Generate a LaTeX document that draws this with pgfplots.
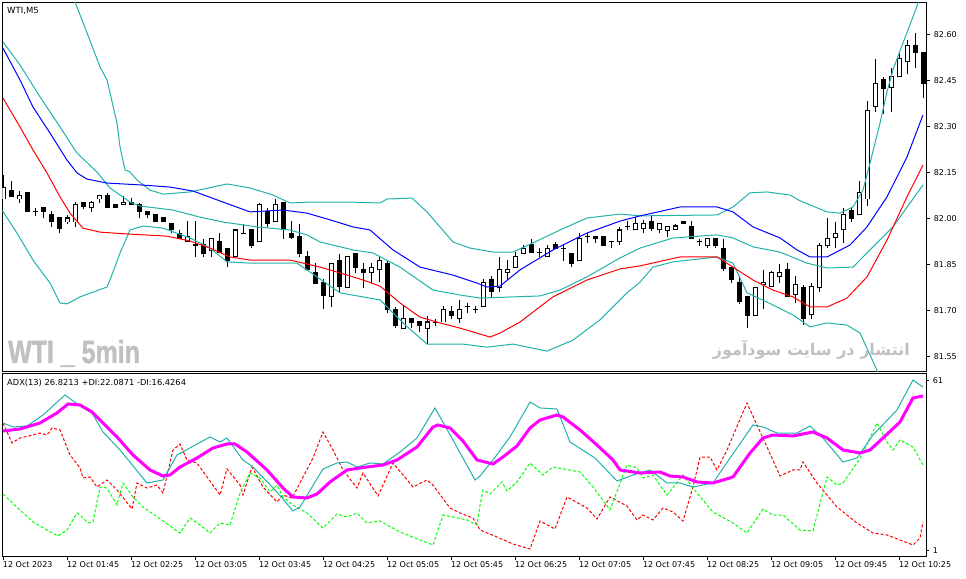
\documentclass[border=0pt]{standalone}
\usepackage{graphicx}
\usepackage{pgfplots}
\pgfplotsset{compat=1.18}
\usepackage{pgfplotstable}
\usepackage{fontspec}
\setmainfont{DejaVu Sans}
\newfontfamily\wmfont[BoldFeatures={FakeBold=1.5}]{Liberation Sans}
\newfontfamily\arfont[Script=Arabic]{DejaVu Sans}
\TeXXeTstate=1
\definecolor{lsg}{RGB}{32,178,170}
\definecolor{wm}{RGB}{192,192,192}
\definecolor{lime}{RGB}{0,255,0}
\definecolor{mag}{RGB}{255,0,255}

% bullish candles: i open high low close
\pgfplotstableread{
i o h l c
0 82.065 82.143 82.065 82.104
2 82.065 82.091 82.052 82.075
8 81.990 82.013 81.984 82.003
9 81.990 82.055 81.974 82.046
11 82.036 82.059 82.023 82.055
12 82.065 82.075 82.052 82.075
15 82.046 82.075 82.046 82.055
23 81.925 81.993 81.925 81.944
26 81.896 81.935 81.876 81.935
29 81.876 81.964 81.876 81.964
32 81.925 82.052 81.925 82.046
34 81.993 82.065 81.993 82.046
41 81.746 81.856 81.713 81.856
43 81.775 81.876 81.775 81.876
46 81.824 81.856 81.791 81.843
47 81.834 81.876 81.794 81.866
50 81.644 81.716 81.644 81.674
53 81.644 81.684 81.592 81.664
55 81.664 81.716 81.664 81.706
57 81.674 81.736 81.661 81.706
60 81.716 81.804 81.716 81.794
62 81.775 81.876 81.762 81.834
63 81.824 81.866 81.801 81.834
64 81.843 81.892 81.843 81.876
65 81.886 81.915 81.886 81.905
68 81.876 81.915 81.876 81.905
72 81.863 81.954 81.863 81.935
77 81.925 81.974 81.915 81.964
79 81.964 82.006 81.964 81.984
80 81.970 81.997 81.954 81.984
82 81.964 81.984 81.954 81.984
83 81.961 81.974 81.941 81.974
84 81.967 81.984 81.967 81.977
88 81.912 81.935 81.905 81.935
94 81.684 81.775 81.684 81.775
95 81.785 81.834 81.706 81.794
96 81.781 81.830 81.781 81.824
97 81.811 81.853 81.791 81.824
99 81.755 81.814 81.726 81.785
101 81.687 81.791 81.674 81.781
102 81.775 81.922 81.762 81.912
103 81.912 82.003 81.905 81.935
104 81.941 81.990 81.905 81.954
105 81.964 82.036 81.922 82.013
107 82.013 82.124 82.013 82.085
108 82.065 82.385 82.042 82.352
109 82.365 82.522 82.349 82.443
111 82.430 82.492 82.349 82.463
112 82.463 82.544 82.463 82.522
113 82.512 82.584 82.473 82.564
}\bull

% bearish and doji candles
\pgfplotstableread{
i o h l c
1 82.094 82.124 82.072 82.072
3 82.085 82.088 82.023 82.023
4 82.023 82.036 82.010 82.023
5 82.036 82.036 82.003 82.023
6 82.013 82.026 81.974 81.990
7 82.003 82.006 81.954 81.970
10 82.055 82.055 82.032 82.042
13 82.075 82.085 82.036 82.036
14 82.046 82.046 82.036 82.036
16 82.055 82.068 82.046 82.046
17 82.046 82.052 82.003 82.023
18 82.023 82.023 82.003 82.013
19 82.013 82.013 81.990 81.990
20 82.003 82.003 81.990 81.990
21 81.984 81.984 81.954 81.964
22 81.954 81.964 81.935 81.935
24 81.915 81.993 81.876 81.915
25 81.915 81.935 81.876 81.886
27 81.925 81.954 81.892 81.892
28 81.905 81.905 81.843 81.866
30 81.954 81.984 81.954 81.954
31 81.964 81.964 81.905 81.915
33 82.023 82.036 81.974 81.984
35 82.055 82.055 81.935 81.964
36 81.954 81.993 81.935 81.941
37 81.944 81.984 81.876 81.886
38 81.876 81.896 81.834 81.834
39 81.824 81.856 81.791 81.791
40 81.794 81.804 81.706 81.752
42 81.866 81.886 81.762 81.781
44 81.886 81.886 81.824 81.843
45 81.834 81.856 81.775 81.824
48 81.856 81.866 81.693 81.706
49 81.706 81.713 81.644 81.651
51 81.674 81.674 81.644 81.661
52 81.664 81.664 81.631 81.651
54 81.661 81.674 81.651 81.661
56 81.697 81.716 81.674 81.684
58 81.713 81.726 81.693 81.713
59 81.706 81.716 81.693 81.706
61 81.804 81.814 81.746 81.762
66 81.915 81.935 81.892 81.892
67 81.892 81.905 81.876 81.892
69 81.915 81.925 81.905 81.905
70 81.905 81.915 81.863 81.905
71 81.886 81.886 81.843 81.856
73 81.944 81.954 81.922 81.944
74 81.944 81.944 81.922 81.935
75 81.944 81.944 81.915 81.915
76 81.925 81.925 81.905 81.925
78 81.974 81.993 81.964 81.974
81 81.993 82.010 81.961 81.970
85 81.993 81.993 81.984 81.984
86 81.974 81.993 81.935 81.935
87 81.925 81.935 81.912 81.925
89 81.935 81.935 81.905 81.912
90 81.905 81.935 81.830 81.840
91 81.843 81.843 81.791 81.804
92 81.794 81.814 81.723 81.732
93 81.746 81.746 81.644 81.684
98 81.834 81.856 81.746 81.746
100 81.775 81.785 81.654 81.674
106 82.026 82.039 81.990 82.003
110 82.453 82.463 82.342 82.424
114 82.564 82.606 82.492 82.544
115 82.544 82.544 82.394 82.443
}\bear

\begin{document}
\begin{tikzpicture}
\useasboundingbox (0,0) rectangle (966pt,578pt);
% watermarks
\node[anchor=base west, text=wm, inner sep=0pt] at (8pt,215pt)
  {\scalebox{0.78}[1]{\wmfont\bfseries\fontsize{32}{32}\selectfont WTI \_ 5min}};
\node[anchor=base east, text=wm, inner sep=0pt] at (910pt,222pt)
  {\arfont\bfseries\fontsize{16}{16}\selectfont\beginR انتشار در سایت سودآموز\endR};

\pgfplotsset{
  mtpanel/.style={scale only axis, width=924pt, xmin=-0.125, xmax=115.375,
    anchor=north west, axis line style={line width=1pt, black},
    tick style={line width=1pt, black}, tick align=outside,
    ytick pos=right, yticklabel pos=right,
    ticklabel style={font=\fontsize{8}{9}\selectfont},
    /pgf/number format/assume math mode=true},
  wick/.style={draw=none, mark=none, forget plot,
    error bars/.cd, y dir=plus, y explicit, error mark=none,
    error bar style={draw=black, solid, line width=1pt}},
  body/.style={draw=none, mark=none, forget plot,
    error bars/.cd, y dir=plus, y explicit, error mark=none,
    error bar style={draw=#1, solid, line width=5pt}},
  inner/.style={draw=none, mark=none, forget plot,
    error bars/.cd, y dir=plus, y explicit, error mark=none,
    error bar style={draw=white, solid, line width=3pt}},
}

% ---------------- price panel ----------------
\begin{axis}[mtpanel, at={(2.3pt,575.3pt)}, height=369pt,
  ymin=81.502, ymax=82.705, xtick=\empty,
  ytick={81.55,81.70,81.85,82.00,82.15,82.30,82.45,82.60},
  major tick length=4pt,
  yticklabel style={/pgf/number format/.cd, fixed, fixed zerofill, precision=2, assume math mode=true}]
% wicks
\addplot[wick] table[x=i, y=l, y error plus expr=\thisrow{h}-\thisrow{l}] {\bull};
\addplot[wick] table[x=i, y=l, y error plus expr=\thisrow{h}-\thisrow{l}] {\bear};
% bodies
\addplot[body=black] table[x=i, y expr=\thisrow{c}-0.0016, y error plus expr=\thisrow{o}-\thisrow{c}+0.0033] {\bear};
\addplot[body=black] table[x=i, y expr=\thisrow{o}-0.0016, y error plus expr=\thisrow{c}-\thisrow{o}+0.0033] {\bull};
\addplot[inner] table[x=i, y expr=\thisrow{o}+0.0016, y error plus expr=\thisrow{c}-\thisrow{o}-0.0033] {\bull};
% Bollinger bands
\addplot[lsg, line width=1pt, mark=none] coordinates {(7.09,82.861)(8.34,82.760)(8.96,82.707)(9.84,82.649)(12.09,82.496)(12.96,82.453)(14.21,82.313)(14.59,82.235)(15.21,82.160)(15.84,82.153)(16.71,82.127)(18.34,82.094)(19.96,82.081)(23.34,82.088)(27.96,82.114)(30.84,82.101)(33.71,82.078)(35.84,82.052)(38.34,82.055)(43.34,82.055)(47.09,82.052)(47.96,82.065)(51.09,82.068)(52.96,82.023)(56.21,81.925)(58.34,81.905)(61.21,81.892)(63.71,81.892)(66.21,81.922)(69.59,81.964)(72.96,82.003)(77.09,82.016)(79.59,82.010)(89.21,82.013)(91.21,82.039)(93.34,82.085)(95.46,82.088)(98.34,82.078)(99.59,82.059)(102.96,82.023)(104.59,82.019)(106.21,82.039)(107.46,82.094)(108.34,82.182)(109.59,82.313)(110.46,82.414)(111.21,82.486)(112.46,82.574)(113.71,82.659)(114.96,82.747)};
\addplot[lsg, line width=1pt, mark=none] coordinates {(-0.04,82.577)(2.09,82.502)(4.59,82.398)(7.09,82.300)(9.21,82.215)(11.71,82.153)(13.34,82.101)(15.84,82.055)(17.09,82.042)(21.21,82.029)(24.59,82.006)(27.46,81.990)(31.71,81.974)(35.84,81.964)(37.96,81.948)(39.59,81.925)(43.71,81.899)(46.21,81.889)(49.59,81.843)(53.71,81.768)(57.09,81.752)(59.59,81.742)(67.09,81.749)(69.59,81.768)(72.96,81.811)(77.09,81.873)(79.59,81.905)(83.71,81.938)(89.21,81.948)(91.21,81.938)(93.71,81.909)(97.09,81.892)(100.46,81.856)(102.96,81.840)(106.21,81.843)(108.71,81.909)(111.21,81.974)(114.96,82.111)};
\addplot[lsg, line width=1pt, mark=none] coordinates {(-0.41,82.039)(1.71,81.954)(3.71,81.866)(5.84,81.791)(7.09,81.726)(7.96,81.723)(9.59,81.746)(12.96,81.778)(13.34,81.801)(14.59,81.889)(15.84,81.964)(17.46,81.977)(19.96,81.970)(23.34,81.938)(25.84,81.905)(27.96,81.860)(30.84,81.856)(34.96,81.856)(36.71,81.856)(39.21,81.811)(42.09,81.759)(47.09,81.736)(49.96,81.661)(52.96,81.592)(57.46,81.592)(60.46,81.582)(63.71,81.592)(67.96,81.569)(71.21,81.605)(74.59,81.671)(77.96,81.759)(79.59,81.794)(81.21,81.843)(83.71,81.860)(89.21,81.876)(91.21,81.856)(92.96,81.759)(95.46,81.729)(98.71,81.687)(100.84,81.648)(102.96,81.661)(105.46,81.654)(107.09,81.628)(109.21,81.507)(110.21,81.426)};
% moving averages
\addplot[blue, line width=1pt, mark=none] coordinates {(-0.04,82.557)(2.09,82.453)(3.71,82.365)(5.84,82.280)(7.96,82.192)(9.21,82.150)(10.46,82.130)(12.96,82.117)(17.09,82.111)(20.84,82.104)(23.71,82.091)(27.46,82.055)(30.84,82.023)(34.96,82.029)(37.96,82.019)(40.84,81.997)(43.71,81.974)(45.84,81.964)(48.71,81.899)(52.09,81.843)(56.21,81.817)(59.21,81.791)(60.46,81.778)(62.09,81.781)(64.59,81.834)(68.71,81.899)(72.96,81.954)(77.09,81.993)(79.59,82.010)(84.59,82.039)(89.21,82.039)(91.21,82.023)(93.71,81.974)(97.09,81.938)(99.21,81.899)(100.84,81.876)(102.96,81.876)(105.84,81.915)(107.96,81.974)(110.46,82.072)(112.96,82.202)(114.96,82.339)};
\addplot[red, line width=1pt, mark=none] coordinates {(-0.04,82.394)(2.09,82.300)(3.71,82.225)(5.46,82.150)(7.09,82.072)(8.34,82.019)(9.96,81.970)(12.09,81.957)(15.46,81.951)(20.46,81.944)(23.34,81.928)(25.84,81.905)(28.34,81.876)(30.84,81.866)(35.84,81.866)(39.59,81.843)(42.09,81.824)(44.96,81.801)(47.09,81.781)(49.59,81.726)(52.09,81.680)(54.59,81.661)(57.09,81.644)(60.84,81.615)(62.09,81.628)(64.59,81.664)(68.71,81.746)(72.96,81.801)(77.09,81.837)(79.59,81.847)(84.59,81.876)(89.21,81.876)(91.21,81.843)(93.71,81.801)(96.21,81.768)(98.71,81.746)(100.84,81.713)(102.96,81.713)(105.46,81.742)(107.96,81.811)(110.46,81.931)(112.96,82.072)(114.96,82.176)};
\end{axis}

% ---------------- ADX panel ----------------
\begin{axis}[mtpanel, at={(2.3pt,204.7pt)}, height=183.4pt,
  ymin=-1.11, ymax=63.46, ytick={1,61}, major tick length=3pt,
  xtick={0,8,...,112}, xtick pos=bottom,
  xticklabels={12 Oct 2023,12 Oct 01:45,12 Oct 02:25,12 Oct 03:05,12 Oct 03:45,12 Oct 04:25,12 Oct 05:05,12 Oct 05:45,12 Oct 06:25,12 Oct 07:05,12 Oct 07:45,12 Oct 08:25,12 Oct 09:05,12 Oct 09:45,12 Oct 10:25},
  xticklabel style={anchor=north west, inner sep=0pt, xshift=-0.5pt, yshift=-2pt}]
\addplot[red, line width=1pt, dash pattern=on 3pt off 2pt, mark=none] coordinates {(-0.04,45.96)(1.09,38.92)(2.09,40.68)(3.71,41.74)(4.59,42.44)(5.46,41.74)(6.09,44.20)(7.09,43.50)(8.34,34.70)(9.59,30.12)(9.96,26.60)(10.84,26.95)(11.71,23.43)(12.96,25.89)(14.21,22.37)(16.09,15.68)(16.71,24.84)(17.96,23.08)(19.21,24.13)(19.96,21.32)(21.21,36.46)(22.09,38.57)(22.96,32.94)(24.21,31.88)(27.09,20.61)(27.96,29.77)(29.59,24.13)(29.96,20.61)(31.09,30.47)(32.46,23.43)(34.21,18.15)(34.96,20.61)(36.09,19.56)(38.71,33.64)(39.96,42.80)(41.21,36.46)(42.46,29.42)(44.21,23.08)(44.96,28.36)(46.84,20.26)(48.71,31.88)(51.21,23.43)(52.96,25.89)(53.71,24.13)(55.84,16.04)(57.09,14.27)(58.71,12.51)(59.59,8.30)(61.71,5.82)(63.71,3.36)(65.84,1.60)(67.09,11.46)(68.96,8.64)(70.46,19.91)(72.96,16.04)(74.21,12.16)(75.84,19.91)(77.96,16.74)(79.21,11.81)(79.96,13.57)(81.21,11.81)(82.46,16.04)(83.71,14.63)(84.96,11.46)(86.21,23.43)(87.09,33.99)(88.34,33.99)(89.21,29.42)(90.46,36.46)(92.96,53.01)(95.46,37.51)(97.09,27.30)(98.71,29.42)(99.59,29.42)(99.96,32.23)(101.71,24.84)(104.21,16.39)(106.71,10.75)(108.71,7.23)(110.46,6.53)(112.09,4.77)(113.71,3.01)(114.59,5.47)(114.96,11.11)};
\addplot[lime, line width=1pt, dash pattern=on 3pt off 2pt, mark=none] coordinates {(-0.04,20.96)(2.09,15.33)(3.71,11.11)(5.46,8.29)(6.84,6.18)(7.96,8.29)(9.21,14.27)(9.59,13.57)(10.59,10.75)(11.21,11.11)(12.09,23.43)(12.96,23.08)(14.21,17.09)(14.96,24.84)(16.21,19.91)(17.46,16.39)(19.59,12.16)(22.09,7.23)(23.34,12.51)(24.59,10.05)(25.84,7.23)(27.09,10.75)(28.34,10.05)(29.59,21.32)(29.96,23.43)(30.84,28.36)(32.09,26.60)(33.34,21.67)(34.21,24.13)(34.96,19.91)(36.21,17.09)(37.96,14.27)(39.96,8.99)(41.71,13.92)(42.96,12.87)(44.21,14.27)(45.46,10.75)(47.09,11.46)(49.59,7.58)(52.09,4.77)(53.71,3.01)(54.96,13.57)(56.21,12.87)(57.96,11.81)(59.21,10.05)(59.59,17.00)(59.96,22.37)(60.84,20.96)(62.34,25.19)(62.96,22.02)(64.21,25.19)(65.84,31.88)(67.46,27.65)(68.71,30.47)(72.09,28.71)(73.71,23.43)(75.84,15.33)(77.96,31.18)(79.21,30.12)(79.96,26.60)(81.21,27.65)(82.96,20.61)(84.96,27.65)(86.71,21.32)(88.71,14.63)(91.21,10.75)(92.96,7.23)(94.96,15.68)(96.21,13.57)(97.46,13.57)(99.59,8.29)(101.21,7.94)(102.96,26.95)(104.21,24.13)(104.96,24.84)(106.71,31.88)(107.46,35.40)(109.21,45.96)(110.46,39.27)(111.21,36.46)(112.09,39.98)(113.71,37.51)(114.96,31.18)};
\addplot[lsg, line width=1pt, mark=none] coordinates {(-0.04,45.96)(1.21,44.56)(2.96,44.91)(4.96,48.78)(7.71,55.82)(9.59,51.95)(11.09,49.49)(12.46,42.80)(14.59,36.46)(17.96,24.84)(19.96,25.89)(21.71,34.70)(25.84,41.04)(27.09,39.27)(27.96,40.68)(29.96,32.94)(31.21,30.47)(34.21,21.67)(36.21,14.98)(37.09,16.39)(39.96,29.77)(41.71,31.88)(42.96,32.23)(44.21,30.47)(45.84,31.88)(47.46,31.53)(49.59,35.75)(51.71,40.68)(53.96,51.25)(56.21,39.98)(58.96,25.89)(59.59,27.30)(61.21,32.94)(63.34,41.04)(65.84,53.36)(67.09,51.25)(69.21,50.89)(70.84,39.27)(73.96,33.64)(76.71,25.54)(78.71,27.65)(80.84,29.42)(82.96,24.84)(84.59,24.84)(86.21,23.43)(88.71,24.84)(90.84,33.64)(93.71,45.26)(94.96,44.56)(96.71,42.44)(99.21,42.44)(100.84,44.91)(102.46,40.68)(104.96,32.23)(106.71,33.64)(108.71,41.74)(111.71,50.54)(113.71,61.10)(114.96,58.64)};
\addplot[mag, line width=3pt, mark=none] coordinates {(-0.04,43.15)(2.09,43.85)(4.59,45.96)(6.71,49.49)(8.09,52.65)(9.59,52.30)(11.09,49.84)(12.46,45.96)(14.21,41.04)(16.21,34.70)(18.34,29.42)(19.96,27.30)(20.84,27.65)(22.09,30.47)(24.21,33.64)(26.21,37.16)(27.96,38.57)(28.96,38.57)(30.46,35.75)(32.96,29.42)(34.96,23.08)(36.21,19.91)(37.96,19.56)(39.21,20.96)(40.84,25.19)(42.96,29.42)(45.46,30.47)(47.46,31.18)(49.21,32.94)(51.71,37.51)(53.71,44.56)(54.34,45.26)(55.84,44.20)(57.46,39.63)(59.21,32.94)(61.21,31.53)(62.46,33.99)(64.21,37.87)(65.84,44.20)(67.09,47.02)(69.21,48.78)(69.96,48.08)(72.09,43.50)(74.21,38.22)(76.21,32.94)(77.09,29.42)(79.59,28.36)(82.09,28.71)(83.34,27.30)(84.96,26.95)(86.71,25.19)(88.71,24.84)(91.21,26.95)(93.34,35.40)(94.96,40.68)(96.21,41.74)(98.71,41.39)(101.21,42.80)(102.96,40.68)(104.96,36.46)(107.09,35.40)(108.34,36.46)(109.96,40.68)(112.09,46.32)(113.71,54.77)(114.96,55.47)};
\end{axis}

% panel labels
\node[anchor=west, inner sep=0pt, font=\fontsize{8.5}{9}\selectfont] at (7pt,567pt) {WTI,M5};
\node[anchor=west, inner sep=0pt, font=\fontsize{8.3}{9}\selectfont] at (7pt,195.3pt) {ADX(13) 26.8213 +DI:22.0871 -DI:16.4264};
\end{tikzpicture}
\end{document}
